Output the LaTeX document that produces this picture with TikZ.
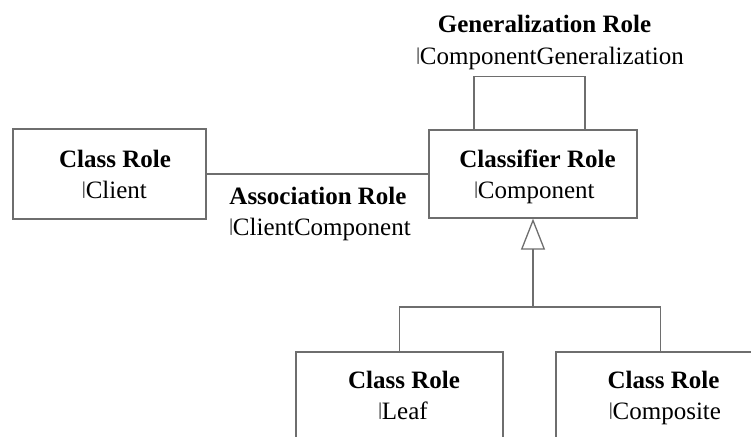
\documentclass[tikz,border=0pt]{standalone}
\usepackage{fontspec}
\usepackage{graphicx}
\setmainfont{Liberation Serif}
\usetikzlibrary{arrows.meta}
\definecolor{edge}{RGB}{110,110,110}
% short role bar: sits on the baseline and reaches cap height
\newcommand\rolebar{\resizebox{!}{0.66em}{\raisebox{\depth}{\textbar}}}
\tikzset{
  rolebox/.style={draw=edge, line width=1.3pt, fill=white, inner sep=0pt},
  conn/.style={draw=edge, line width=1.3pt},
  title/.style={anchor=base, inner sep=0pt, font=\fontsize{25}{31}\selectfont\bfseries},
  rname/.style={anchor=base, inner sep=0pt, font=\fontsize{25}{31}\selectfont},
  genarrow/.style={-{Triangle[open, length=31pt, width=24pt, line width=1.3pt]}}
}
\begin{document}
\begin{tikzpicture}[x=1pt, y=-1pt]
  \useasboundingbox (0,0) rectangle (751,436);
  \clip (0,0) rectangle (751,436);
  \fill[white] (0,0) rectangle (751,436);

  % role boxes
  \node[rolebox, minimum width=193pt, minimum height=90pt] (client) at (109.5,174) {};
  \node[rolebox, minimum width=208pt, minimum height=88pt] (comp) at (533,174) {};
  \node[rolebox, minimum width=207pt, minimum height=130pt] (leaf) at (399.5,417) {};
  \node[rolebox, minimum width=209pt, minimum height=130pt] (compos) at (660.5,417) {};

  % association between client and component
  \draw[conn] (client.east) -- (comp.west);

  % self association on the component
  \draw[conn] ([xshift=-59pt]comp.north) -- ++(0,-53) -| ([xshift=52pt]comp.north);

  % generalization tree
  \coordinate (hub) at (533,307);
  \draw[conn] (leaf.north) |- (hub) -| (compos.north);
  \draw[conn, genarrow] (hub) -- (comp.south);

  % labels
  \node[title] (t1) at (115,167) {Class Role};
  \node[rname] (n1) at (114.5,198) {\rolebar Client};

  \node[title] (t2) at (537.5,167) {Classifier Role};
  \node[rname] (n2) at (534.5,198) {\rolebar Component};

  \node[title] (t3) at (318,204) {Association Role};
  \node[rname] (n3) at (320,235) {\rolebar ClientComponent};

  \node[title] (t4) at (544.5,33) {Generalization Role};
  \node[rname] (n4) at (550,64) {\rolebar ComponentGeneralization};

  \node[title] (t5) at (404,388) {Class Role};
  \node[rname] (n5) at (403,419) {\rolebar Leaf};

  \node[title] (t6) at (663.5,388) {Class Role};
  \node[rname] (n6) at (665,419) {\rolebar Composite};
\end{tikzpicture}
\end{document}
